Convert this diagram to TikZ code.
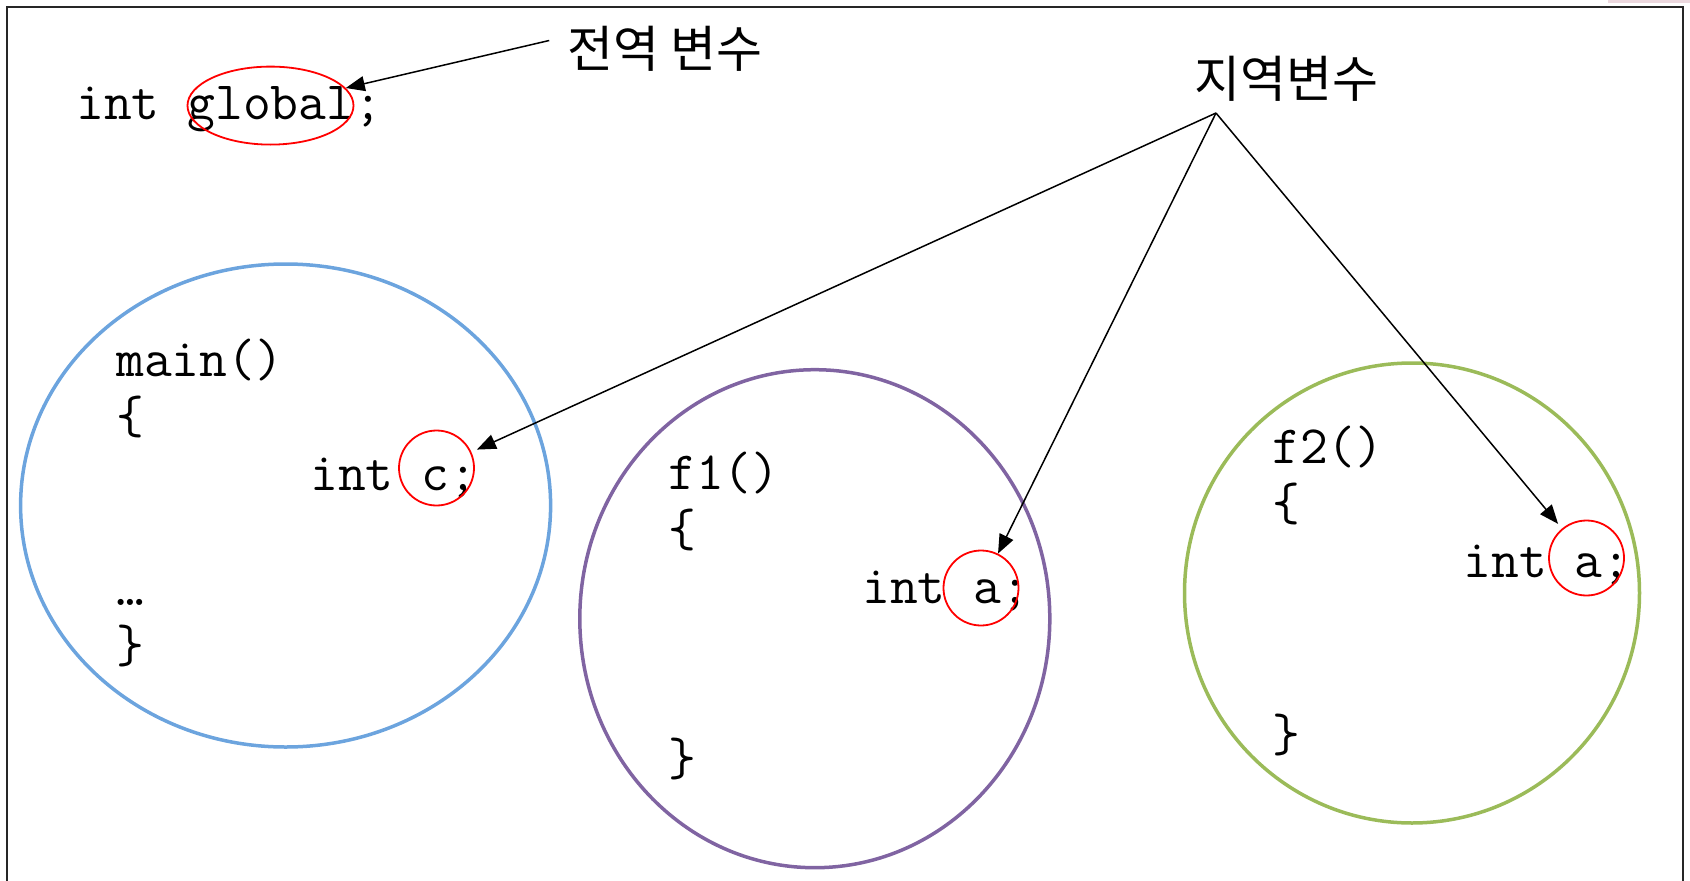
\documentclass[tikz,border=0pt]{standalone}
\usepackage{fontspec}
\usepackage{tikz}
\usetikzlibrary{arrows.meta, shapes.geometric}
\newfontfamily\krfont{Noto Sans CJK KR}
\definecolor{mainblue}{RGB}{108,164,222}
\definecolor{fonepurple}{RGB}{128,100,162}
\definecolor{ftwogreen}{RGB}{155,187,89}
\definecolor{cornerpink}{RGB}{236,216,222}

\begin{document}
\begin{tikzpicture}[x=1pt, y=-1pt,
    code/.style={font=\ttfamily\fontsize{54}{58}\selectfont, anchor=base west, inner sep=0pt},
    krtext/.style={font=\krfont\fontsize{50}{56}\selectfont, inner sep=0pt},
    scopebox/.style={ellipse, draw=#1, line width=3.5pt, inner sep=0pt},
    varmark/.style={circle, draw=red, line width=1.8pt, minimum size=75pt, inner sep=0pt},
    arr/.style={-{Triangle[length=19pt, width=15pt]}, line width=1.5pt}]
    \useasboundingbox (0,0) rectangle (1690,881);
    % 바깥 틀
    \fill[cornerpink] (1608,0) rectangle (1690,3);
    \draw[line width=2pt, black!85] (7,881) -- (7,7) -- (1683,7) -- (1683,881);

    % 전역 변수
    \node[code] (gline) at (76,119) {int global;};
    \node[ellipse, draw=red, line width=1.8pt, minimum width=166pt, minimum height=78pt, inner sep=0pt] (gvar) at (270.5,105.6) {};
    \node[krtext] (gtitle) at (665,48.5) {전역 변수};
    \draw[arr] ([yshift=8pt]gtitle.west) ++(-18,0) -- (gvar);

    % 함수 영역
    \node[scopebox=mainblue, minimum width=530pt, minimum height=483pt] (mainscope) at (285.6,505.5) {};
    \node[scopebox=fonepurple, minimum width=470pt, minimum height=498pt] (fonescope) at (814.8,618.7) {};
    \node[scopebox=ftwogreen, minimum width=455pt, minimum height=460pt] (ftwoscope) at (1412,593) {};

    % main()
    \node[code] (mhead) at (116,376) {main()};
    \node[code] (mopen) at (116,433) {\{};
    \node[code] (mvar) at (310,490) {int c;};
    \node[code] (mdots) at (116,605) {…};
    \node[code] (mclose) at (116,662) {\}};
    \node[varmark] (cvar) at (436.5,468) {};

    % f1()
    \node[code] (fonehead) at (668,489) {f1()};
    \node[code] (foneopen) at (668,546) {\{};
    \node[code] (fonevar) at (862,603) {int a;};
    \node[code] (foneclose) at (668,775) {\}};
    \node[varmark] (aone) at (981,588) {};

    % f2()
    \node[code] (ftwohead) at (1272,463) {f2()};
    \node[code] (ftwoopen) at (1272,520) {\{};
    \node[code] (ftwovar) at (1463.5,577) {int a;};
    \node[code] (ftwoclose) at (1272,751) {\}};
    \node[varmark] (atwo) at (1586.5,558) {};

    % 지역변수
    \node[krtext] (ltitle) at (1286,79) {지역변수};
    \coordinate (src) at (1216,113);
    \draw[arr, shorten >=6pt] (src) -- (cvar);
    \draw[arr] (src) -- (aone);
    \draw[arr, shorten >=6pt] (src) -- (atwo);
\end{tikzpicture}
\end{document}
